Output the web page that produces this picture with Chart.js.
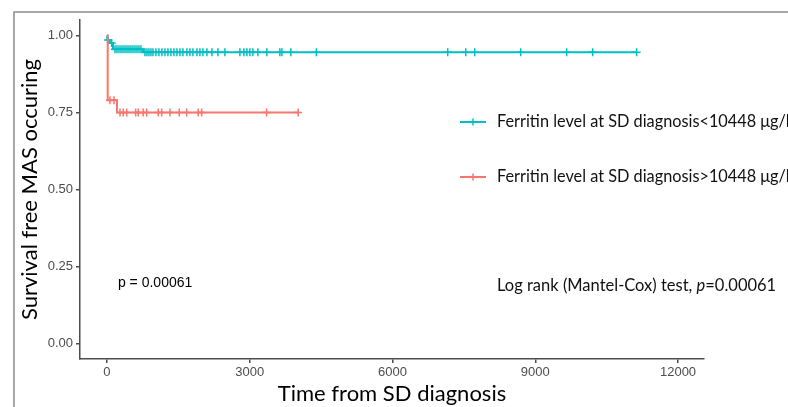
<!DOCTYPE html>
<html>
<head>
<meta charset="utf-8">
<script src="https://cdn.jsdelivr.net/npm/chart.js@4"></script>
<style>
  html, body { margin: 0; padding: 0; background: #fff; }
  canvas { display: block; }
</style>
</head>
<body>
<canvas id="kmChart" width="788" height="407"></canvas>
<script>
// Kaplan-Meier steps: times (days) and survival at each step
const lowTimes = [0, 5, 60, 126, 756, 11130];
const lowSurv = [1, 0.985, 0.975, 0.955, 0.945, 0.945];
const highTimes = [0, 15, 210, 4017];
const highSurv = [1, 0.79, 0.75, 0.75];

// censored observations (+ marks)
const lowCensor = [20, 99, 168, 210, 252, 294, 336, 378, 420, 462, 504, 546, 588, 630, 672, 714,
  798, 840, 882, 924, 966, 1029, 1092, 1155, 1218, 1281, 1344, 1407, 1470, 1533, 1596, 1680,
  1743, 1806, 1890, 1953, 2016, 2100, 2205, 2331, 2478, 2793, 2877, 2940, 3003, 3066, 3171,
  3360, 3633, 3675, 3864, 4400, 7161, 7539, 7728, 8694, 9660, 10206, 11130];
const highCensor = [63, 147, 273, 342, 414, 603, 657, 762, 834, 1077, 1149, 1323, 1518, 1674,
  1917, 1989, 3354, 4017];

const timeTicks = [0, 3000, 6000, 9000, 12000];
const survTicks = [0, 0.25, 0.5, 0.75, 1];
const legendLabels = [
  "Ferritin level at SD diagnosis<10448 \u03bcg/l",
  "Ferritin level at SD diagnosis>10448 \u03bcg/l"
];

const cyan = "#00BFC4";
const salmon = "#F8766D";

function curve(times, surv) {
  return times.map((t, i) => ({ x: t, y: surv[i] }));
}
function survAt(times, surv, t) {
  let s = surv[0];
  for (let i = 0; i < times.length; i++) if (times[i] <= t) s = surv[i];
  return s;
}
function marks(cens, times, surv) {
  return cens.map(t => ({ x: t, y: survAt(times, surv, t) }));
}

const extras = {
  id: "extras",
  afterDraw(chart) {
    const c = chart.ctx;
    const xs = chart.scales.x, ys = chart.scales.y;
    c.save();
    // outer frame
    c.strokeStyle = "#8c8c8c";
    c.lineWidth = 1.5;
    c.strokeRect(14, 12, 800, 500);

    // legend
    const items = [[cyan, 122], [salmon, 177]];
    items.forEach(([col, y], i) => {
      c.strokeStyle = col;
      c.lineWidth = 2;
      c.beginPath();
      c.moveTo(460, y); c.lineTo(486, y);
      c.stroke();
      c.lineWidth = 1.5;
      c.beginPath();
      c.moveTo(473, y - 3.5); c.lineTo(473, y + 3.5);
      c.moveTo(469.5, y); c.lineTo(476.5, y);
      c.stroke();
      c.fillStyle = "#111";
      c.font = '16.3px Lato';
      c.textBaseline = "middle";
      c.textAlign = "left";
      c.fillText(legendLabels[i], 497, y);
    });

    // p-value from the survival plot
    c.font = '14px "Liberation Sans"';
    c.fillStyle = "#000";
    c.textBaseline = "middle";
    c.fillText("p = 0.00061", xs.getPixelForValue(230), ys.getPixelForValue(0.197));

    // log rank note
    let x = 497;
    const y = 286;
    c.fillStyle = "#111";
    c.font = '16.5px Lato';
    const a = "Log rank (Mantel-Cox) test, ";
    c.fillText(a, x, y); x += c.measureText(a).width;
    c.font = 'italic 16.5px Lato';
    c.fillText("p", x, y); x += c.measureText("p").width;
    c.font = '16.5px Lato';
    c.fillText("=0.00061", x, y);
    c.restore();
  }
};

const axisCol = "#4d4d4d";

new Chart(document.getElementById("kmChart").getContext("2d"), {
  type: "line",
  data: {
    datasets: [
      { label: legendLabels[1], data: curve(highTimes, highSurv), borderColor: salmon,
        borderWidth: 2, stepped: "before", pointRadius: 0, fill: false },
      { label: legendLabels[0], data: curve(lowTimes, lowSurv), borderColor: cyan,
        borderWidth: 2, stepped: "before", pointRadius: 0, fill: false },
      { data: marks(highCensor, highTimes, highSurv), showLine: false, pointStyle: "cross",
        pointRadius: 4, borderColor: salmon, pointBorderWidth: 1.5 },
      { data: marks(lowCensor, lowTimes, lowSurv), showLine: false, pointStyle: "cross",
        pointRadius: 4, borderColor: cyan, pointBorderWidth: 1.5 }
    ]
  },
  options: {
    responsive: false,
    animation: false,
    devicePixelRatio: 1,
    layout: { padding: { left: 14, top: 20, right: 84, bottom: 0 } },
    plugins: { legend: { display: false }, tooltip: { enabled: false } },
    scales: {
      x: {
        type: "linear",
        min: -567,
        max: 12546,
        afterBuildTicks: s => { s.ticks = timeTicks.map(v => ({ value: v })); },
        afterFit: s => { s.height = 48; },
        ticks: { color: axisCol, font: { family: "Liberation Sans", size: 13 }, padding: 2,
          maxRotation: 0, autoSkip: false, callback: v => String(v) },
        grid: { drawOnChartArea: false, tickLength: 4, color: axisCol, lineWidth: 1.5 },
        border: { color: axisCol, width: 1.5 },
        title: { display: true, text: "Time from SD diagnosis", color: "#000",
          font: { family: "Lato", size: 22 }, padding: 0 }
      },
      y: {
        min: -0.05,
        max: 1.05,
        afterBuildTicks: s => { s.ticks = survTicks.map(v => ({ value: v })); },
        afterFit: s => { s.width = 66; },
        ticks: { color: axisCol, font: { family: "Liberation Sans", size: 13 }, padding: 3,
          callback: v => v.toFixed(2) },
        grid: { drawOnChartArea: false, tickLength: 4, color: axisCol, lineWidth: 1.5 },
        border: { color: axisCol, width: 1.5 },
        title: { display: true, text: "Survival free MAS occuring", color: "#000",
          font: { family: "Lato", size: 22 }, padding: 3 }
      }
    }
  },
  plugins: [extras]
});
</script>
</body>
</html>
